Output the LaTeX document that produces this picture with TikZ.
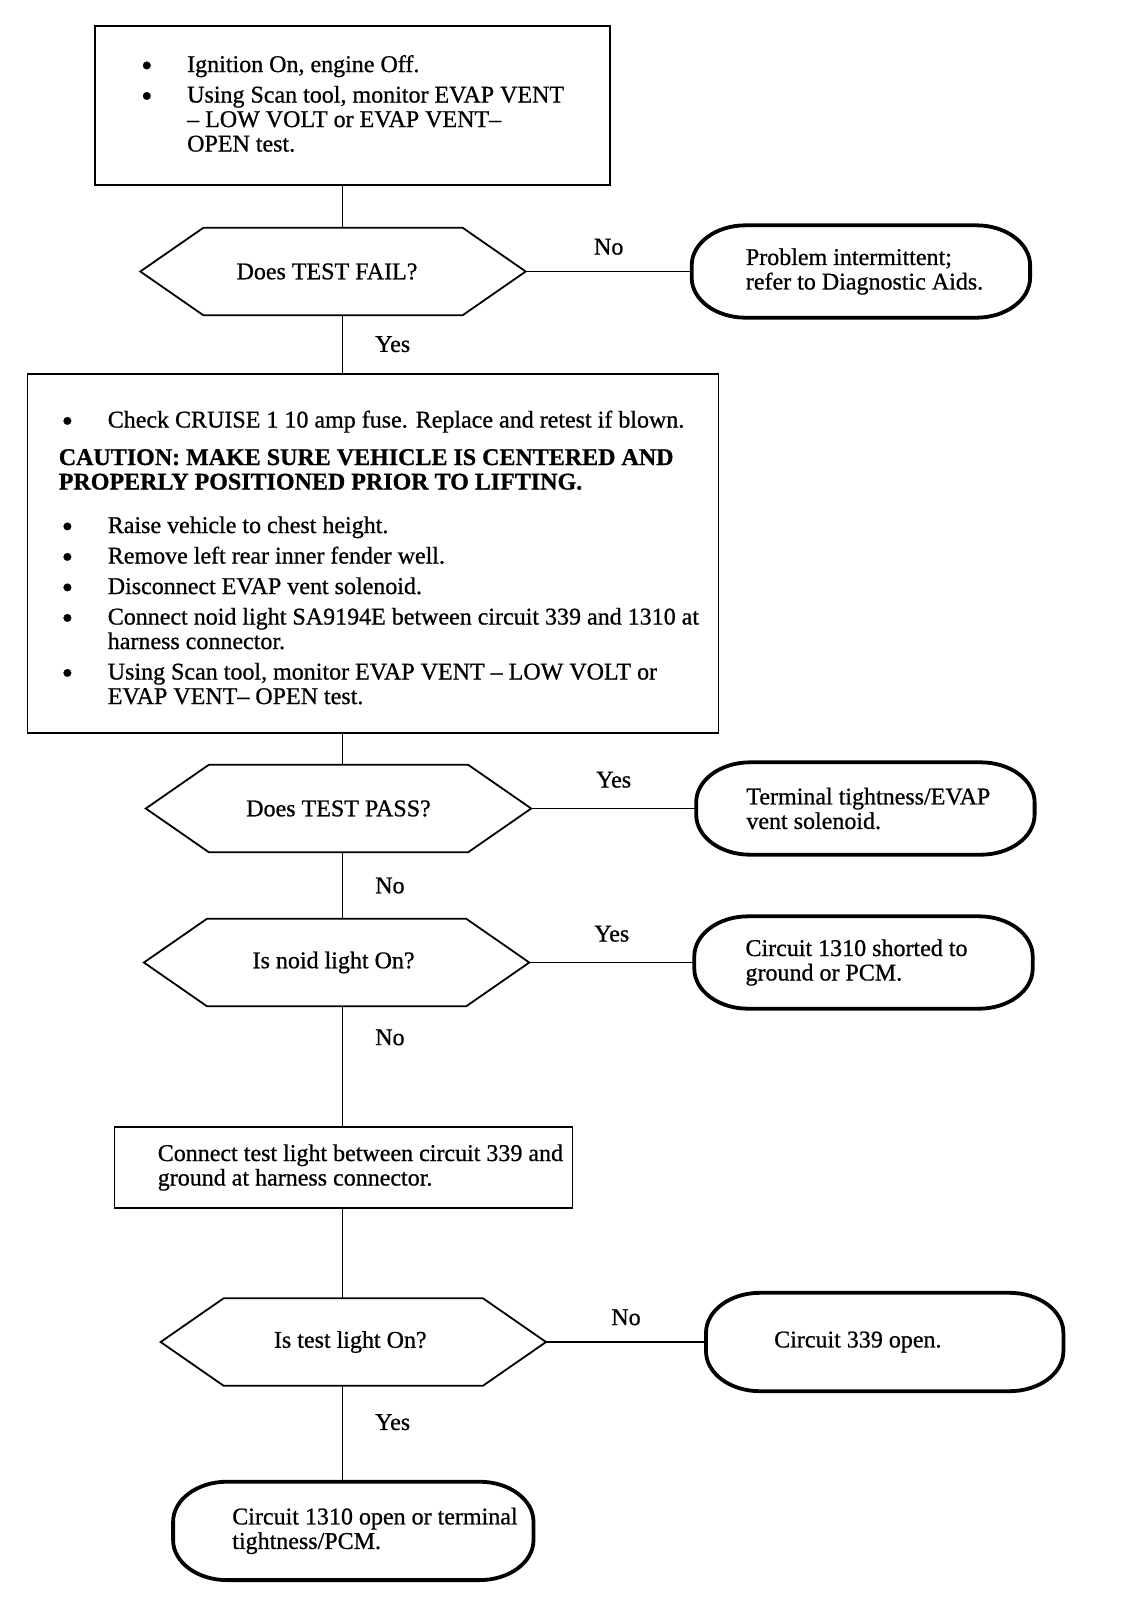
\documentclass[tikz,border=0pt]{standalone}
\usepackage{fontspec}
\setmainfont{Liberation Serif}[FakeBold=0.8]
\usetikzlibrary{positioning}
\tikzstyle{frame} = [draw,line width=1.8pt,inner sep=0]
\tikzstyle{words} = [inner sep=0,align=left,font=\fontsize{24}{24.5}\selectfont]
\tikzstyle{test} = [inner sep=0,minimum width=385pt,minimum height=87pt,font=\fontsize{24}{24.5}\selectfont]
\tikzstyle{stop} = [inner sep=0,minimum width=338pt,minimum height=92pt]
\tikzstyle{link} = [-,line width=1.5pt]
\tikzstyle{answer} = [inner sep=0,font=\fontsize{24}{24.5}\selectfont]
\def \hx {63pt}
\def \rx {54pt}
\def \ry {40pt}
\newcommand{\bul}{\makebox[49pt][l]{\hspace*{3pt}\raisebox{-4pt}[0pt][0pt]{\fontsize{32}{0}\selectfont\textbullet}}}
\newcommand{\ind}{\hspace*{49pt}}
% hexagon outline round a test node
\newcommand{\drawtest}[1]{\draw[line width=1.8pt] (#1.west) -- ([xshift=\hx]#1.north west) -- ([xshift=-\hx]#1.north east) -- (#1.east) -- ([xshift=-\hx]#1.south east) -- ([xshift=\hx]#1.south west) -- cycle;}
% capsule outline round a stop node
\newcommand{\drawstop}[1]{\draw[line width=3.8pt] ([xshift=\rx]#1.north west) -- ([xshift=-\rx]#1.north east) arc[start angle=90,end angle=0,x radius=\rx,y radius=\ry] -- ([yshift=\ry]#1.south east) arc[start angle=0,end angle=-90,x radius=\rx,y radius=\ry] -- ([xshift=\rx]#1.south west) arc[start angle=270,end angle=180,x radius=\rx,y radius=\ry] -- ([yshift=-\ry]#1.north west) arc[start angle=180,end angle=90,x radius=\rx,y radius=\ry] -- cycle;}

\begin{document}
\begin{tikzpicture}[x=1pt,y=1pt]
      \useasboundingbox (0,0) rectangle (1120,-1610);
      \coordinate (spine) at (342.5,0);
      % boxes and tests down the left
      \node[frame,minimum width=515pt,minimum height=159pt] (topbox) at (352.4,-105.5) {};
      \node[test] (fail) at (333,-271.5) {\hspace*{-12pt}Does TEST FAIL?};
      \node[frame,minimum width=691pt,minimum height=359pt] (checkbox) at (373,-553.5) {};
      \node[test] (pass) at (338.5,-808.5) {Does TEST PASS?};
      \node[test] (noid) at (336.6,-962.5) {\hspace*{-6pt}Is noid light On?};
      \node[frame,minimum width=458pt,minimum height=81pt] (lightbox) at (343.5,-1167.5) {};
      \node[test] (lamp) at (353.3,-1342) {\hspace*{-6pt}Is test light On?};
      % end results
      \node[stop,right=166pt of fail] (aids) {};
      \node[stop,right=165pt of pass] (vent) {};
      \node[stop,right=165pt of noid] (short) {};
      \node[stop,minimum width=357pt,minimum height=98pt,right=160pt of lamp] (open) {};
      \node[stop,minimum width=360pt,minimum height=98pt,below=96pt of lamp] (pcm) {};
      \drawtest{fail}
      \drawtest{pass}
      \drawtest{noid}
      \drawtest{lamp}
      \drawstop{aids}
      \drawstop{vent}
      \drawstop{short}
      \drawstop{open}
      \drawstop{pcm}
      % texts
      \node[words,right=44pt of topbox.west,yshift=2pt] (toptext) {\bul Ignition On, engine Off.\\[6pt]
        \bul Using Scan tool, monitor EVAP VENT\\
        \ind -- LOW VOLT or EVAP VENT--\\
        \ind OPEN test.};
      \node[words,right=32pt of checkbox.west,yshift=-4pt] (checktext) {\bul Check CRUISE 1 10 amp fuse. Replace and retest if blown.\\[13pt]
        \textbf{CAUTION: MAKE SURE VEHICLE IS CENTERED AND}\\
        \textbf{PROPERLY POSITIONED PRIOR TO LIFTING.}\\[19pt]
        \bul Raise vehicle to chest height.\\[6pt]
        \bul Remove left rear inner fender well.\\[6pt]
        \bul Disconnect EVAP vent solenoid.\\[6pt]
        \bul Connect noid light SA9194E between circuit 339 and 1310 at\\
        \ind harness connector.\\[6pt]
        \bul Using Scan tool, monitor EVAP VENT -- LOW VOLT or\\
        \ind EVAP VENT-- OPEN test.};
      \node[words,right=44pt of lightbox.west] (lighttext) {Connect test light between circuit 339 and\\ground at harness connector.};
      \node[words,right=54pt of aids.west] (aidstext) {Problem intermittent;\\refer to Diagnostic Aids.};
      \node[words,right=50pt of vent.west] (venttext) {Terminal tightness/EVAP\\vent solenoid.};
      \node[words,right=51pt of short.west] (shorttext) {Circuit 1310 shorted to\\ground or PCM.};
      \node[words,right=68pt of open.west] (opentext) {Circuit 339 open.};
      \node[words,right=59pt of pcm.west] (pcmtext) {Circuit 1310 open or terminal\\tightness/PCM.};
      % connectors
      \draw[link] (topbox.south -| spine) -- (fail.north -| spine);
      \draw[link] (fail.south -| spine) -- node[answer,right=32pt] {Yes} (checkbox.north -| spine);
      \draw[link] (fail.east) -- node[answer,above=16pt] {No} (aids.west);
      \draw[link] (checkbox.south -| spine) -- (pass.north -| spine);
      \draw[link] (pass.east) -- node[answer,above=20pt] {Yes} (vent.west);
      \draw[link] (pass.south -| spine) -- node[answer,right=32pt] {No} (noid.north -| spine);
      \draw[link] (noid.east) -- node[answer,above=20pt] {Yes} (short.west);
      \draw[link] (noid.south -| spine) -- node[answer,right=32pt,pos=0.26] {No} (lightbox.north -| spine);
      \draw[link] (lightbox.south -| spine) -- (lamp.north -| spine);
      \draw[link] (lamp.east) -- node[answer,above=16pt] {No} (open.west);
      \draw[link] (lamp.south -| spine) -- node[answer,right=32pt,pos=0.38] {Yes} (pcm.north -| spine);
    \end{tikzpicture}
\end{document}
